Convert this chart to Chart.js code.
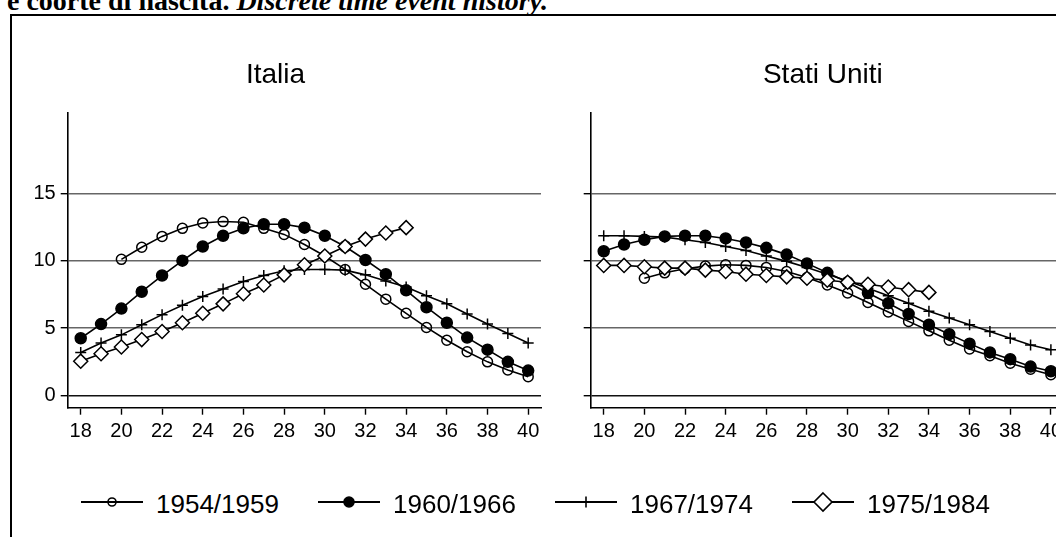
<!DOCTYPE html>
<html lang="it">
<head>
<meta charset="utf-8">
<title>Coorti di nascita</title>
<script src="https://cdn.jsdelivr.net/npm/chart.js@4.4.1/dist/chart.umd.min.js"></script>
<style>
  html, body { margin: 0; padding: 0; background: #fff; }
  body {
    width: 1056px; height: 537px; overflow: hidden; position: relative;
    font-family: "Liberation Sans", Arial, Helvetica, sans-serif;
  }
  #caption {
    position: absolute; left: 7px; top: -13px; white-space: nowrap;
    font: bold 28px/28px "Liberation Serif", "Times New Roman", serif;
  }
  #caption em { font-style: italic; }
  #frame {
    position: absolute; left: 10px; top: 14px; width: 1100px; height: 600px;
    border: 2px solid #000;
  }
  canvas.panel { position: absolute; top: 14px; }
  #italia { left: 10px; }
  #usa { left: 548px; }
  #legend { position: absolute; top: 489px; left: 81px; display: flex; }
  .item { width: 237px; display: flex; align-items: center; }
  .item span { font-size: 26px; line-height: 26px; margin-left: 13px; position: relative; top: 2px; }
</style>
</head>
<body>
<div id="caption">e coorte di nascita. <em>Discrete time event history.</em></div>
<div id="frame"></div>
<canvas id="italia" class="panel" width="546" height="446"></canvas>
<canvas id="usa" class="panel" width="560" height="446"></canvas>
<div id="legend"></div>

<script>
// --- DATA ---
const ages = [18, 19, 20, 21, 22, 23, 24, 25, 26, 27, 28, 29, 30, 31, 32, 33, 34, 35, 36, 37, 38, 39, 40];
const xTicks = [18, 20, 22, 24, 26, 28, 30, 32, 34, 36, 38, 40];
const yTicks = [0, 5, 10, 15];
const cohorts = ["1954/1959", "1960/1966", "1967/1974", "1975/1984"];

// Italia
const itaCohort1954 = [null, null, 10.1, 11.0, 11.8, 12.4, 12.8, 12.9, 12.85, 12.4, 11.95, 11.2, 10.35, 9.35, 8.25, 7.15, 6.1, 5.05, 4.1, 3.25, 2.5, 1.9, 1.4];
const itaCohort1960 = [4.25, 5.3, 6.45, 7.7, 8.9, 10.0, 11.05, 11.85, 12.4, 12.7, 12.7, 12.45, 11.85, 11.05, 10.05, 9.0, 7.8, 6.55, 5.4, 4.3, 3.4, 2.5, 1.85];
const itaCohort1967 = [3.2, 3.9, 4.5, 5.25, 6.0, 6.7, 7.35, 7.9, 8.45, 8.9, 9.25, 9.35, 9.35, 9.3, 8.95, 8.5, 8.05, 7.4, 6.8, 6.05, 5.3, 4.6, 3.9];
const itaCohort1975 = [2.55, 3.1, 3.6, 4.15, 4.75, 5.4, 6.1, 6.8, 7.55, 8.2, 8.95, 9.7, 10.35, 11.05, 11.6, 12.05, 12.45];

// Stati Uniti
const usaCohort1954 = [null, null, 8.7, 9.1, 9.4, 9.6, 9.7, 9.65, 9.5, 9.2, 8.75, 8.2, 7.6, 6.9, 6.2, 5.5, 4.8, 4.1, 3.45, 2.95, 2.4, 1.95, 1.55];
const usaCohort1960 = [10.7, 11.2, 11.55, 11.8, 11.85, 11.85, 11.65, 11.35, 10.95, 10.45, 9.8, 9.1, 8.4, 7.6, 6.85, 6.05, 5.25, 4.55, 3.85, 3.2, 2.7, 2.15, 1.8];
const usaCohort1967 = [11.85, 11.85, 11.8, 11.75, 11.55, 11.35, 11.05, 10.75, 10.35, 9.95, 9.5, 9.0, 8.5, 7.95, 7.4, 6.85, 6.25, 5.75, 5.25, 4.75, 4.25, 3.75, 3.4];
const usaCohort1975 = [9.65, 9.65, 9.55, 9.45, 9.45, 9.3, 9.2, 9.0, 8.9, 8.8, 8.7, 8.55, 8.4, 8.25, 8.05, 7.85, 7.65];

// --- MARKERS ---
const FONT = "'Liberation Sans', Arial, Helvetica, sans-serif";
const markerStyles = ["circle", "circle", "cross", "rectRot"];
const markerRadii = [5, 5.5, 5.5, 7];
const markerFills = ["rgba(0,0,0,0)", "#000", "#000", "#fff"];
const legendRadii = [4, 5, 5.5, 9];

function buildDatasets(rows) {
  return rows.map((vals, i) => ({
    label: cohorts[i],
    data: vals.map((v, k) => ({ x: ages[k], y: v })),
    borderColor: "#000",
    borderWidth: 1.6,
    pointStyle: markerStyles[i],
    pointRadius: markerRadii[i],
    pointBackgroundColor: markerFills[i],
    pointBorderColor: "#000",
    pointBorderWidth: 1.5,
    order: rows.length - i,
    tension: 0,
    spanGaps: false,
  }));
}

function panelOptions(title, padLeft, padRight, yWidth) {
  return {
    responsive: false,
    animation: false,
    events: [],
    layout: { padding: { left: padLeft, right: padRight, top: 0, bottom: 22.3 } },
    plugins: {
      legend: { display: false },
      tooltip: { enabled: false },
      title: {
        display: true,
        text: title,
        color: "#000",
        font: { family: FONT, size: 28, weight: "normal", lineHeight: 1.2 },
        padding: { top: 44, bottom: 21.4 },
      },
    },
    scales: {
      x: {
        type: "linear",
        min: 17.36,
        max: 40.63,
        afterBuildTicks: (s) => { s.ticks = xTicks.map((v) => ({ value: v })); },
        afterFit: (s) => { s.height = 30; },
        grid: { drawOnChartArea: false, drawTicks: true, tickLength: 7, tickColor: "#000", tickWidth: 1.4, color: "#000" },
        border: { display: true, color: "#000", width: 1.6 },
        ticks: { color: "#000", font: { family: FONT, size: 20 }, padding: 5, autoSkip: false, maxRotation: 0 },
      },
      y: {
        min: -0.9,
        max: 20.95,
        afterBuildTicks: (s) => { s.ticks = yTicks.map((v) => ({ value: v })); },
        afterFit: (s) => { s.width = yWidth; },
        grid: {
          color: (ctx) => (ctx.tick && ctx.tick.value === 0 ? "#111" : "#666"),
          lineWidth: 1.4,
          drawTicks: true,
          tickLength: 7,
          tickColor: "#000",
          tickWidth: 1.4,
        },
        border: { display: true, color: "#000", width: 1.6 },
        ticks: { color: "#000", font: { family: FONT, size: 20 }, padding: 5 },
      },
    },
  };
}

new Chart(document.getElementById("italia"), {
  type: "line",
  data: { datasets: buildDatasets([itaCohort1954, itaCohort1960, itaCohort1967, itaCohort1975]) },
  options: panelOptions("Italia", 0, 15, 57.7),
});

new Chart(document.getElementById("usa"), {
  type: "line",
  data: { datasets: buildDatasets([usaCohort1954, usaCohort1960, usaCohort1967, usaCohort1975]) },
  options: panelOptions("Stati Uniti", 34, 44.3, 8.7),
});

// --- SHARED LEGEND ---
function drawSample(cv, i) {
  const g = cv.getContext("2d");
  const cx = cv.width / 2, cy = cv.height / 2, r = legendRadii[i];
  g.strokeStyle = "#000";
  g.lineWidth = 2;
  g.beginPath();
  g.moveTo(0, cy);
  g.lineTo(cv.width, cy);
  g.stroke();

  g.lineWidth = 1.6;
  g.fillStyle = markerFills[i];
  g.beginPath();
  if (markerStyles[i] === "circle") {
    g.arc(cx, cy, r, 0, Math.PI * 2);
    g.fill();
    g.stroke();
  } else if (markerStyles[i] === "cross") {
    g.moveTo(cx, cy - r);
    g.lineTo(cx, cy + r);
    g.stroke();
  } else {
    g.moveTo(cx, cy - r);
    g.lineTo(cx + r, cy);
    g.lineTo(cx, cy + r);
    g.lineTo(cx - r, cy);
    g.closePath();
    g.fill();
    g.stroke();
  }
}

const legendEl = document.getElementById("legend");
cohorts.forEach((name, i) => {
  const item = document.createElement("div");
  item.className = "item";
  const cv = document.createElement("canvas");
  cv.width = 62;
  cv.height = 24;
  drawSample(cv, i);
  const label = document.createElement("span");
  label.textContent = name;
  item.appendChild(cv);
  item.appendChild(label);
  legendEl.appendChild(item);
});
</script>
</body>
</html>
